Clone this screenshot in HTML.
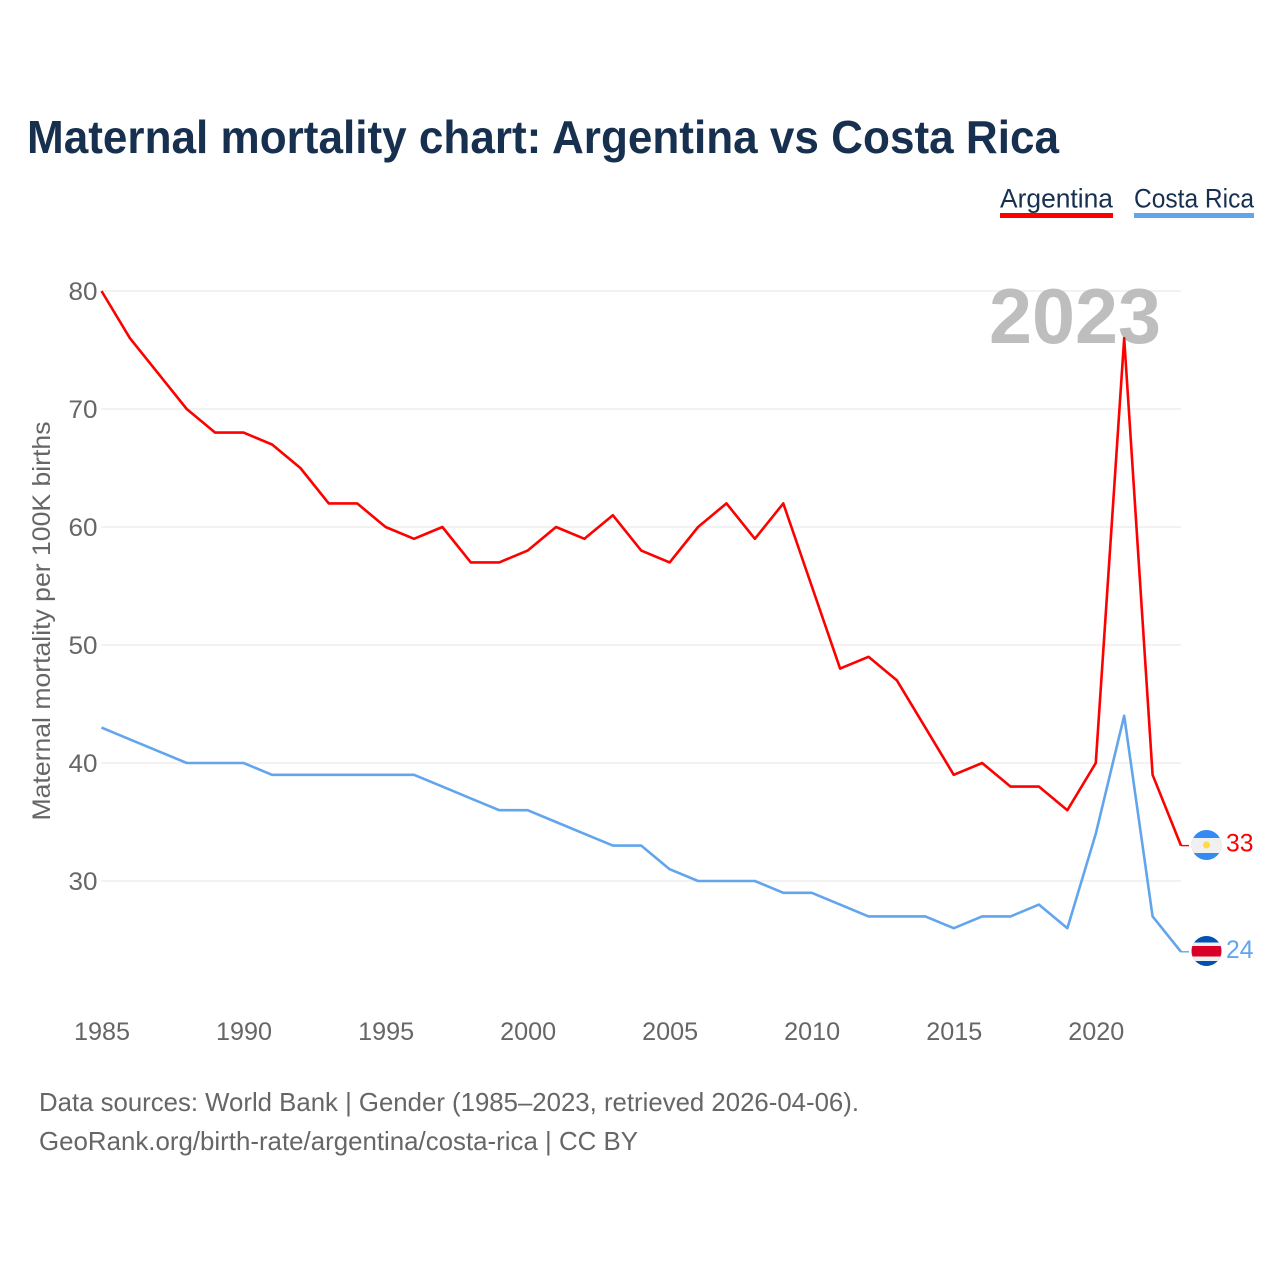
<!DOCTYPE html>
<html lang="en">
<head>
<meta charset="utf-8">
<title>Maternal mortality chart: Argentina vs Costa Rica</title>
<style>
html,body{margin:0;padding:0;background:#fff;width:1280px;height:1280px;overflow:hidden}
svg{display:block}
text{font-family:"Liberation Sans",sans-serif}
</style>
</head>
<body>
<svg id="chart" width="1280" height="1280" viewBox="0 0 1280 1280" xmlns="http://www.w3.org/2000/svg">
  <defs>
    <clipPath id="flag-clip-ar"><circle cx="1206.5" cy="845" r="15"/></clipPath>
    <clipPath id="flag-clip-cr"><circle cx="1206.5" cy="951" r="15"/></clipPath>
  </defs>
  <rect x="0" y="0" width="1280" height="1280" fill="#ffffff"/>
  <text x="27" y="153" font-size="46" font-weight="700" fill="#17304f" textLength="1032" lengthAdjust="spacingAndGlyphs">Maternal mortality chart: Argentina vs Costa Rica</text>

  <text x="1000" y="207.5" font-size="27" fill="#17304f" textLength="113" lengthAdjust="spacingAndGlyphs">Argentina</text>
  <rect x="1000" y="213" width="113" height="5" fill="#ff0000"/>
  <text x="1134" y="207.5" font-size="27" fill="#17304f" textLength="120" lengthAdjust="spacingAndGlyphs">Costa Rica</text>
  <rect x="1134" y="213" width="120" height="5" fill="#62a5ec"/>

  <g id="grid"></g>
  <g id="y-ticks"></g>
  <g id="x-ticks"></g>

  <text transform="translate(50,621) rotate(-90)" text-anchor="middle" font-size="25" fill="#666666" textLength="399" lengthAdjust="spacingAndGlyphs">Maternal mortality per 100K births</text>

  <text x="1075" y="343" text-anchor="middle" font-size="78" font-weight="700" fill="#bebebe" textLength="172" lengthAdjust="spacingAndGlyphs">2023</text>

  <g id="series"></g>

  <g clip-path="url(#flag-clip-ar)">
    <rect x="1191" y="830" width="31" height="31" fill="#338af3"/>
    <rect x="1191" y="838" width="31" height="15" fill="#f0f0f0"/>
    <circle cx="1206.5" cy="845" r="3.5" fill="#ffda44"/>
  </g>
  <g clip-path="url(#flag-clip-cr)">
    <rect x="1191" y="936" width="31" height="31" fill="#0052b4"/>
    <rect x="1191" y="942.5" width="31" height="18.5" fill="#f0f0f0"/>
    <rect x="1191" y="946" width="31" height="10.5" fill="#d80027"/>
  </g>

  <text x="39" y="1111" font-size="26" fill="#666666" textLength="820" lengthAdjust="spacingAndGlyphs">Data sources: World Bank | Gender (1985–2023, retrieved 2026-04-06).</text>
  <text x="39" y="1150" font-size="26" fill="#666666" textLength="599" lengthAdjust="spacingAndGlyphs">GeoRank.org/birth-rate/argentina/costa-rica | CC BY</text>
</svg>
<script>
const years = [1985,1986,1987,1988,1989,1990,1991,1992,1993,1994,1995,1996,1997,1998,1999,2000,2001,2002,2003,2004,2005,2006,2007,2008,2009,2010,2011,2012,2013,2014,2015,2016,2017,2018,2019,2020,2021,2022,2023];
const argentinaValues = [80,76,73,70,68,68,67,65,62,62,60,59,60,57,57,58,60,59,61,58,57,60,62,59,62,55,48,49,47,43,39,40,38,38,36,40,76,39,33];
const costaRicaValues = [43,42,41,40,40,40,39,39,39,39,39,39,38,37,36,36,35,34,33,33,31,30,30,30,29,29,28,27,27,27,26,27,27,28,26,34,44,27,24];
const yTickValues = [30,40,50,60,70,80];
const xTickValues = [1985,1990,1995,2000,2005,2010,2015,2020];

const NS = 'http://www.w3.org/2000/svg';
function xScale(year){ return 101.5 + (year - 1985) * (1181 - 101.5) / 38; }
function yScale(value){ return 881 - (value - 30) * 11.8; }
function make(tag, attrs, parent){
  const el = document.createElementNS(NS, tag);
  for (const k in attrs) el.setAttribute(k, attrs[k]);
  parent.appendChild(el);
  return el;
}

const gridGroup = document.getElementById('grid');
const yGroup = document.getElementById('y-ticks');
const xGroup = document.getElementById('x-ticks');
const seriesGroup = document.getElementById('series');

yTickValues.forEach(function(v){
  const line = make('line', {x1:101.5, x2:1181, y1:yScale(v), y2:yScale(v), stroke:'#e9e9e9', 'stroke-width':1.2}, gridGroup);
  
  
  const label = make('text', {x:97.5, y:yScale(v) + 9, 'text-anchor':'end', 'font-size':25, fill:'#666666', textLength:29, lengthAdjust:'spacingAndGlyphs'}, yGroup);
  label.textContent = String(v);
  
  
});

xTickValues.forEach(function(y){
  const label = make('text', {x:xScale(y) + 0.5, y:1040, 'text-anchor':'middle', 'font-size':25, fill:'#666666', textLength:56, lengthAdjust:'spacingAndGlyphs'}, xGroup);
  label.textContent = String(y);
  
  
});

function drawSeries(values, color, slug){
  const pts = values.map(function(v, i){ return xScale(years[i]).toFixed(2) + ',' + yScale(v).toFixed(2); }).join(' ');
  const line = make('polyline', {points:pts, fill:'none', stroke:color, 'stroke-width':2.6, 'stroke-linejoin':'round'}, seriesGroup);
  
  

  const last = values[values.length - 1];
  const lastX = xScale(years[years.length - 1]);
  const connector = make('line', {x1:lastX, x2:lastX + 8, y1:yScale(last), y2:yScale(last), stroke:color, 'stroke-width':1.4}, seriesGroup);
  
  

  const label = make('text', {x:1226, y:yScale(last) + 6, 'font-size':25, fill:color, textLength:27.5, lengthAdjust:'spacingAndGlyphs'}, seriesGroup);
  label.textContent = String(last);
  
  
}

drawSeries(argentinaValues, '#ff0000', 'argentina');
drawSeries(costaRicaValues, '#62a5ec', 'costa-rica');
</script>
</body>
</html>
